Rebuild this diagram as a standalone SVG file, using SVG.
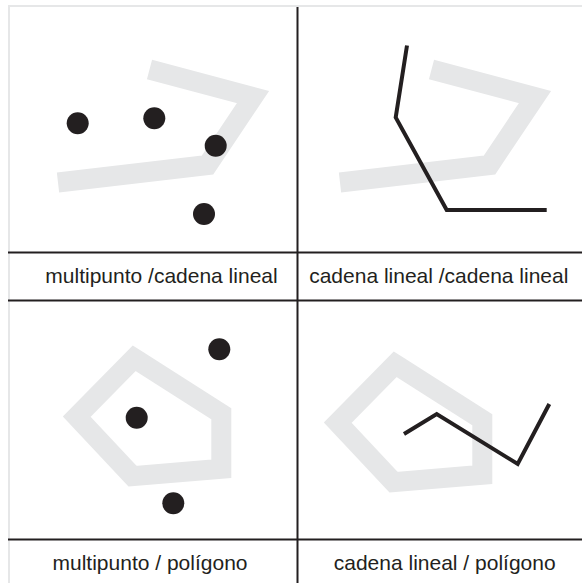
<svg xmlns="http://www.w3.org/2000/svg" width="582" height="583" viewBox="0 0 582 583">
<style>
.frame{stroke:#e6e7e8;stroke-width:2;fill:none}
.grid{stroke:#231f20;stroke-width:2;fill:none}
.band{stroke:#e6e7e8;stroke-width:20;fill:none;stroke-linejoin:miter;stroke-linecap:butt}
.chain{stroke:#231f20;stroke-width:4;fill:none;stroke-linejoin:miter;stroke-linecap:butt}
.pt{fill:#231f20}
.lbl{font-family:"Liberation Sans",Arial,sans-serif;font-size:21px;fill:#231f20;text-anchor:middle}
</style>
<rect width="582" height="583" fill="#ffffff"/>
<g id="connectors">
<line class="frame" x1="8" y1="6" x2="582" y2="6"/>
<line class="frame" x1="9" y1="5" x2="9" y2="583"/>
<line class="grid" x1="297.5" y1="7" x2="297.5" y2="583"/>
<line class="grid" x1="8" y1="252.5" x2="582" y2="252.5"/>
<line class="grid" x1="8" y1="300.5" x2="582" y2="300.5"/>
<line class="grid" x1="8" y1="539.5" x2="582" y2="539.5"/>
</g>
<g id="cell-multipunto-cadena">
<polyline class="band" points="149.5,69.5 253,97 207.5,165 58,182.5"/>
<circle class="pt" cx="77.7" cy="123.3" r="11"/>
<circle class="pt" cx="154.3" cy="118.3" r="11"/>
<circle class="pt" cx="215.7" cy="145.7" r="11"/>
<circle class="pt" cx="204" cy="214" r="11"/>
<text class="lbl" x="161.5" y="283">multipunto /cadena lineal</text>
</g>
<g id="cell-cadena-cadena">
<polyline class="band" points="431.5,69.5 535,97 489.5,165 340,182.5"/>
<polyline class="chain" points="407,45.5 395.7,117.5 446.7,210 546.7,210"/>
<text class="lbl" x="438.8" y="283">cadena lineal /cadena lineal</text>
</g>
<g id="cell-multipunto-poligono">
<polygon class="band" points="134.2,358.3 221.3,413.7 221.3,468.8 132.5,476.2 76.7,416.7"/>
<circle class="pt" cx="219.3" cy="349.3" r="11"/>
<circle class="pt" cx="136.7" cy="417.7" r="11"/>
<circle class="pt" cx="173.3" cy="503.3" r="11"/>
<text class="lbl" x="150" y="570">multipunto / polígono</text>
</g>
<g id="cell-cadena-poligono">
<polygon class="band" points="395.2,364.3 482.3,419.7 482.3,474.8 393.5,482.2 337.7,422.7"/>
<polyline class="chain" points="404,434 436.7,414 517.7,464 549.3,404"/>
<text class="lbl" x="444.7" y="570">cadena lineal / polígono</text>
</g>
</svg>
